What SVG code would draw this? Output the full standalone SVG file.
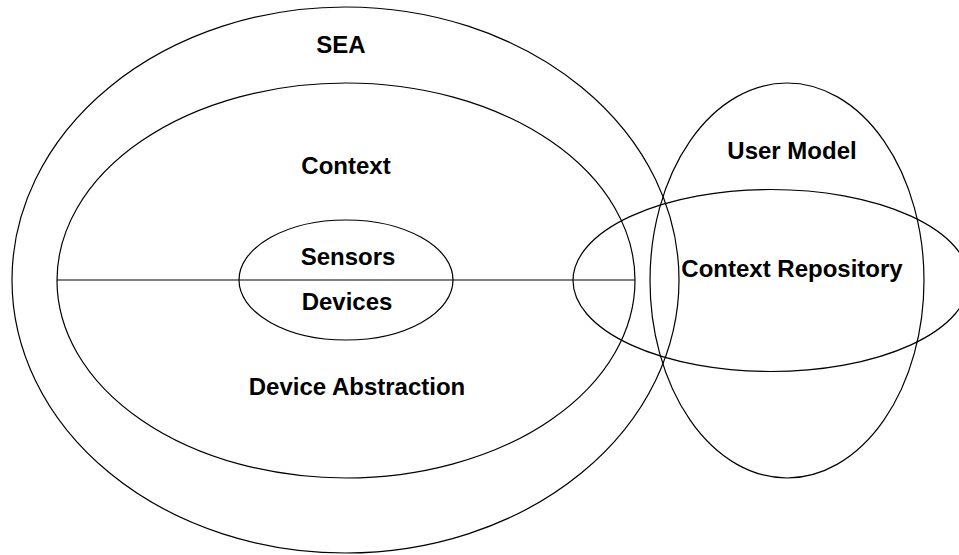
<svg xmlns="http://www.w3.org/2000/svg" width="959" height="555" viewBox="0 0 959 555">
  <style>
    .shape { fill: none; stroke: #000; stroke-width: 1.2; }
    .label { font-family: "Liberation Sans", Arial, sans-serif; font-weight: bold; font-size: 24px; fill: #000; text-anchor: middle; }
  </style>
  <rect width="959" height="555" fill="#fff"/>

  <g id="sea">
    <ellipse class="shape" cx="345.5" cy="280" rx="333.5" ry="273"/>
    <text class="label" x="341" y="53">SEA</text>
  </g>

  <g id="context">
    <ellipse class="shape" cx="346" cy="280.5" rx="289" ry="197.5"/>
    <text class="label" x="346" y="174">Context</text>
  </g>

  <g id="device-abstraction">
    <text class="label" x="357" y="395">Device Abstraction</text>
  </g>

  <g id="sensors-devices">
    <ellipse class="shape" cx="346" cy="280" rx="107" ry="60"/>
    <text class="label" x="348" y="265">Sensors</text>
    <text class="label" x="347" y="310">Devices</text>
  </g>

  <g id="user-model">
    <ellipse class="shape" cx="787" cy="280.5" rx="137" ry="197.5"/>
    <text class="label" x="792" y="159">User Model</text>
  </g>

  <g id="context-repository">
    <ellipse class="shape" cx="771" cy="280.5" rx="198" ry="91"/>
    <text class="label" x="792" y="277">Context Repository</text>
  </g>

  <g id="connectors">
    <line class="shape" x1="57" y1="280" x2="635" y2="280"/>
  </g>
</svg>
